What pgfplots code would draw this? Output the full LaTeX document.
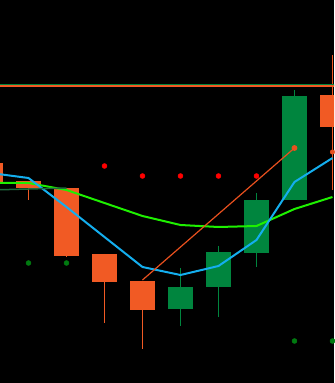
\documentclass[border=0pt]{standalone}
\usepackage{pgfplots}
\pgfplotsset{compat=1.18}
\definecolor{bear}{HTML}{F15A24}
\definecolor{bull}{HTML}{00853E}
\definecolor{mafast}{HTML}{14AEEE}
\definecolor{maslow}{HTML}{1EF000}
\definecolor{dkline}{HTML}{1E6B3C}
\definecolor{trend}{HTML}{E8501E}
\definecolor{dotgreen}{HTML}{007A10}
\newcommand{\candle}[6]{%
  \addplot[#6, line width=1.3pt, forget plot] coordinates {(#1,#3) (#1,#4)};
  \addplot[#6, line width=25pt, line cap=butt, forget plot] coordinates {(#1,#2) (#1,#5)};
}
\begin{document}
\begin{tikzpicture}
\begin{axis}[scale only axis, width=334pt, height=383pt,
  xmin=0.25, xmax=9.04, ymin=0, ymax=383,
  axis line style={draw=none}, ticks=none,
  axis background/.style={fill=black}, clip=true]
% candles: x, open, high, low, close, colour
\candle{0}{220}{222}{199}{201}{bear}
\candle{1}{202}{202}{183}{195}{bear}
\candle{2}{195}{195}{126}{127}{bear}
\candle{3}{129}{129}{60}{101}{bear}
\candle{4}{102}{102}{34}{73}{bear}
\candle{5}{74}{115}{57}{96}{bull}
\candle{6}{96}{137}{66}{131}{bull}
\candle{7}{130}{190}{116}{183}{bull}
\candle{8}{183}{293}{183}{287}{bull}
\candle{9}{288}{328}{193}{256}{bear}
% horizontal levels
\addplot[bull, line width=1.3pt] coordinates {(0,298) (9.5,298)};
\addplot[bear, line width=1.3pt] coordinates {(0,297) (9.5,297)};
% moving averages
\addplot[maslow, line width=2pt] coordinates {(0,200) (1,200) (2,193) (3,180) (4,167) (5,158) (6,156) (7,157) (8,174) (9,186)};
\addplot[mafast, line width=2pt] coordinates {(0,210) (1,205) (2,176) (3,146) (4,116) (5,108) (6,117) (7,143) (8,201) (9,225)};
% dark green segment
\addplot[dkline, line width=1.5pt, mark=*, mark size=2.5pt, mark indices={2}] coordinates {(0,193) (2,195)};
% orange trend segment
\addplot[trend, line width=1.2pt, mark=*, mark size=2.3pt, mark indices={2}] coordinates {(4,103) (8,235)};
\addplot[trend, only marks, mark=*, mark size=2.3pt] coordinates {(9,231)};
% dots
\addplot[red, only marks, mark=*, mark size=2.5pt] coordinates {(3,217) (4,207) (5,207) (6,207) (7,207)};
\addplot[dotgreen, only marks, mark=*, mark size=2.5pt] coordinates {(1,120) (2,120) (8,42) (9,42)};
\end{axis}
\end{tikzpicture}
\end{document}
